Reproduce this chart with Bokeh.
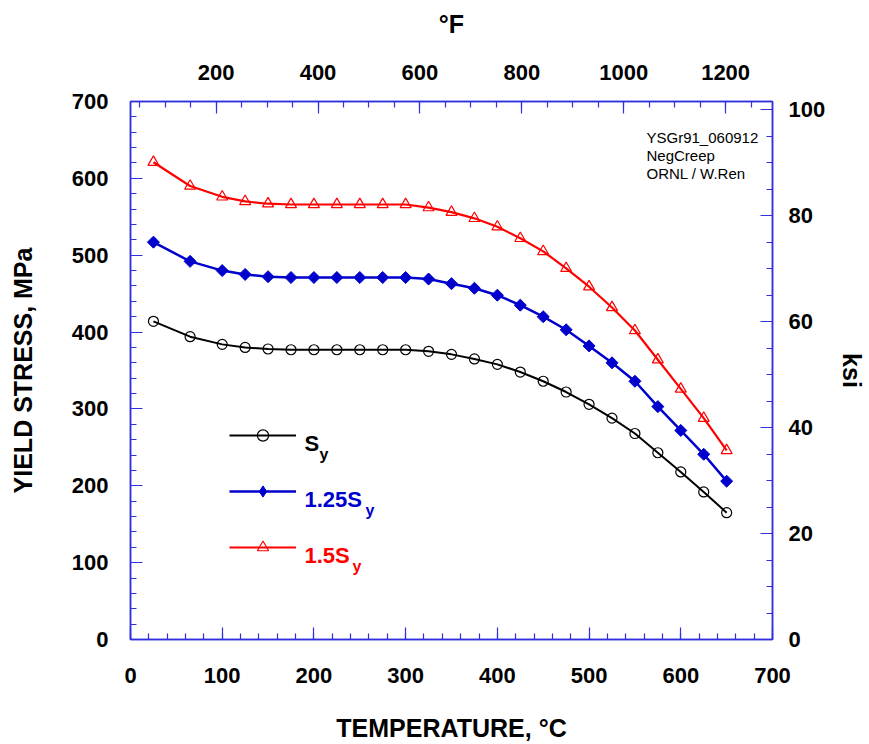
import numpy as np
from bokeh.plotting import figure
from bokeh.models import Range1d, LinearAxis, FixedTicker, Legend, LegendItem, Label
from bokeh.embed import file_html
from bokeh.resources import INLINE

# ---- data ----
temp_c = [25, 65, 100, 125, 150, 175, 200, 225, 250, 275, 300, 325, 350,
          375, 400, 425, 450, 475, 500, 525, 550, 575, 600, 625, 650]
sy = [414, 394, 384, 380, 378, 377, 377, 377, 377, 377, 377, 375, 371,
      365, 358, 348, 336, 322, 306, 288, 268, 243, 218, 192, 165]
sy_125 = [517, 492, 480, 475, 472, 471, 471, 471, 471, 471, 471, 469, 463,
          457, 448, 435, 420, 403, 382, 360, 336, 303, 272, 241, 206]
sy_150 = [621, 590, 576, 570, 567, 566, 566, 566, 566, 566, 566, 562, 556,
          548, 537, 522, 505, 483, 459, 432, 402, 364, 326, 288, 246]

x_ticks_c = [0, 100, 200, 300, 400, 500, 600, 700]
x_minor_c = list(range(0, 701, 20))
y_ticks_mpa = [0, 100, 200, 300, 400, 500, 600, 700]
y_minor_mpa = list(range(0, 701, 20))
top_ticks_f = [200, 400, 600, 800, 1000, 1200]
top_minor_f = list(range(50, 1292, 50))
right_ticks_ksi = [0, 20, 40, 60, 80, 100]
right_minor_ksi = list(range(0, 101, 5))

notes = ["YSGr91_060912", "NegCreep", "ORNL / W.Ren"]

MPA_PER_KSI = 6.894757

BLUE_AX = "#3030dd"
FONT = "Liberation Sans"

p = figure(width=869, height=744, output_backend="svg", toolbar_location=None,
           x_range=Range1d(0, 700), y_range=Range1d(0, 700),
           min_border_left=130, min_border_right=96, min_border_top=101,
           min_border_bottom=105)
bottom_axis = p.below[0]
left_axis = p.left[0]

p.extra_x_ranges = {"F": Range1d(0 * 9 / 5 + 32, 700 * 9 / 5 + 32)}
p.extra_y_ranges = {"ksi": Range1d(0, 700 / MPA_PER_KSI)}

p.xgrid.visible = False
p.ygrid.visible = False
p.outline_line_color = BLUE_AX
p.outline_line_width = 1.5
p.background_fill_color = "white"
p.border_fill_color = "white"

top_axis = LinearAxis(x_range_name="F")
right_axis = LinearAxis(y_range_name="ksi")
p.add_layout(top_axis, "above")
p.add_layout(right_axis, "right")

bottom_axis.ticker = FixedTicker(ticks=x_ticks_c, minor_ticks=x_minor_c)
left_axis.ticker = FixedTicker(ticks=y_ticks_mpa, minor_ticks=y_minor_mpa)
top_axis.ticker = FixedTicker(ticks=top_ticks_f, minor_ticks=top_minor_f)
right_axis.ticker = FixedTicker(ticks=right_ticks_ksi, minor_ticks=right_minor_ksi)

for ax in [bottom_axis, left_axis, top_axis, right_axis]:
    ax.axis_line_color = BLUE_AX
    ax.axis_line_width = 1.5
    ax.major_tick_line_color = BLUE_AX
    ax.minor_tick_line_color = BLUE_AX
    ax.major_tick_line_width = 1.2
    ax.minor_tick_line_width = 1.2
    ax.major_tick_in = 12
    ax.major_tick_out = 0
    ax.minor_tick_in = 6
    ax.minor_tick_out = 0
    ax.major_label_text_font = FONT
    ax.major_label_text_font_style = "bold"
    ax.major_label_text_font_size = "22px"
    ax.major_label_text_color = "black"
    ax.axis_label_text_font = FONT
    ax.axis_label_text_font_style = "bold"
    ax.axis_label_text_font_size = "25px"
    ax.axis_label_text_color = "black"

bottom_axis.axis_label = "TEMPERATURE, °C"
bottom_axis.major_label_standoff = 28
bottom_axis.axis_label_standoff = 28

left_axis.axis_label = "YIELD STRESS, MPa"
left_axis.major_label_standoff = 22
left_axis.axis_label_standoff = 32

top_axis.axis_label = "°F"
top_axis.major_label_standoff = 22
top_axis.axis_label_standoff = 24

right_axis.axis_label = "ksi"
right_axis.major_label_standoff = 16
right_axis.axis_label_standoff = 10

# ---- series ----
r_l1 = p.line(temp_c, sy, line_color="black", line_width=2)
r_m1 = p.scatter(temp_c, sy, marker="circle", size=10, fill_color=None,
                 line_color="black", line_width=1.2)
r_l2 = p.line(temp_c, sy_125, line_color="#0000cc", line_width=2.5)
r_m2 = p.scatter(temp_c, sy_125, marker="square", angle=np.pi / 4, size=8.5,
                 fill_color="#0000cc", line_color="#0000cc", line_width=1)
r_l3 = p.line(temp_c, sy_150, line_color="#ff0000", line_width=2.2)
r_m3 = p.scatter(temp_c, sy_150, marker="triangle", size=11, fill_color=None,
                 line_color="#ff0000", line_width=1.2)

# legend-only diamond sample (no visible data point)
r_leg2 = p.scatter([np.nan], [np.nan], marker="diamond", size=10,
                   fill_color="#0000cc", line_color="#0000cc", line_width=1)

legend = Legend(items=[LegendItem(label="", renderers=[r_l1, r_m1]),
                       LegendItem(label="", renderers=[r_l2, r_leg2]),
                       LegendItem(label="", renderers=[r_l3, r_m3])],
                location=(99, 78), orientation="vertical",
                glyph_width=67, glyph_height=28, spacing=28,
                padding=0, margin=0, label_standoff=0, label_width=0,
                label_height=0, label_text_font_size="6px",
                border_line_color=None, background_fill_alpha=0)
p.add_layout(legend, "center")

def add_text(txt, x, y, size, color, bold=True):
    p.add_layout(Label(x=x, y=y, x_units="screen", y_units="screen", text=txt,
                       text_font=FONT, text_font_size=size,
                       text_font_style="bold" if bold else "normal",
                       text_color=color, text_baseline="alphabetic",
                       text_align="left"))

add_text("S", 174, 196, "22px", "black")
add_text("y", 189, 185, "16px", "black")
add_text("1.25S", 174, 140, "22px", "#0000cc")
add_text("y", 235, 129, "16px", "#0000cc")
add_text("1.5S", 174, 84, "22px", "#ff0000")
add_text("y", 222, 73, "16px", "#ff0000")

for i, t in enumerate(notes):
    p.add_layout(Label(x=516, y=502 - i * 17.8, x_units="screen", y_units="screen",
                       text=t, text_font=FONT, text_font_size="15px",
                       text_color="black", text_baseline="alphabetic",
                       text_align="left"))

open("out.html", "w").write(file_html(p, INLINE))
